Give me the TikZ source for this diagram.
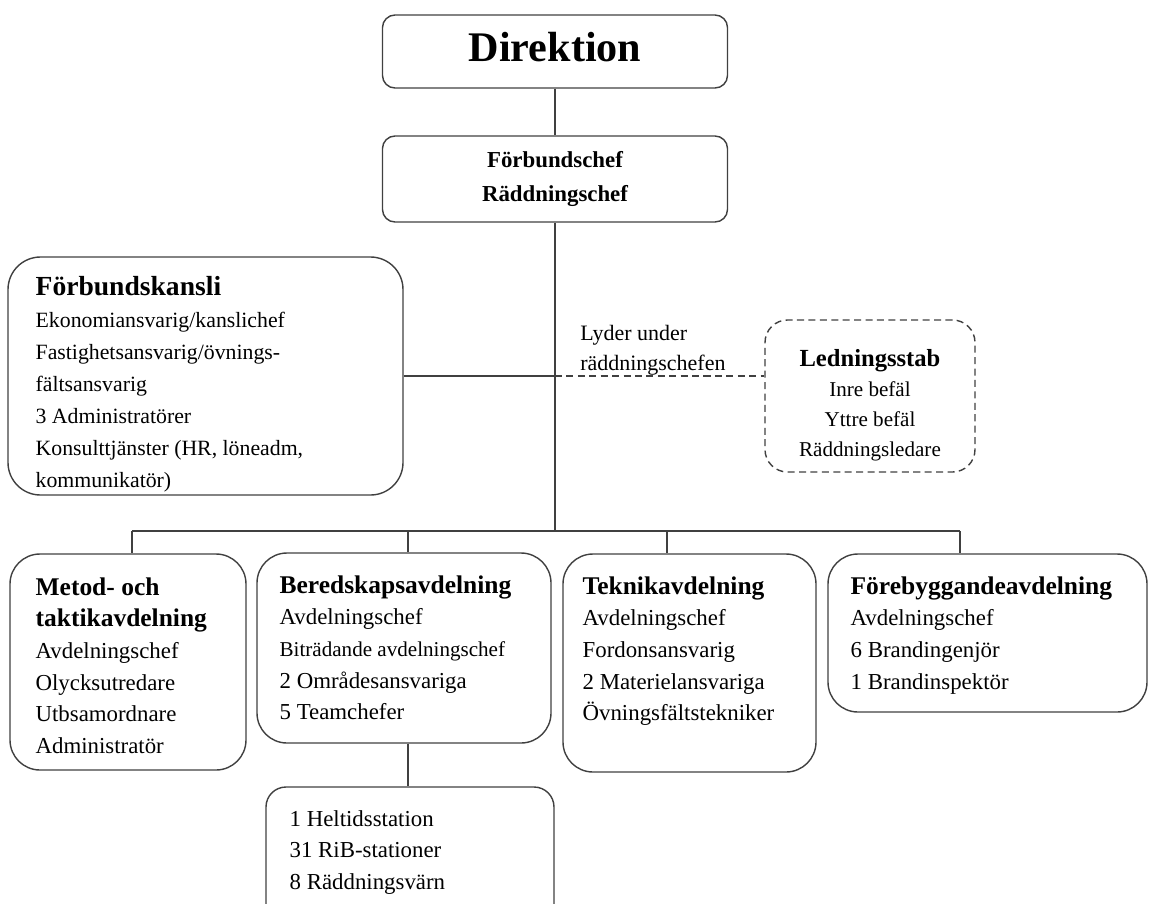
\documentclass[tikz,border=0pt]{standalone}
\usepackage{fontspec}
\setmainfont{Liberation Serif}
\usetikzlibrary{positioning}
\tikzset{every node/.append style={inner sep=0pt}}
\tikzset{
  unit/.style={draw=black!75, line width=0.8pt, rounded corners=0.6cm},
  topbox/.style={unit, rounded corners=0.25cm, align=center},
  txt/.style={align=left, font=\fontsize{13}{18}\selectfont},
  link/.style={draw=black!75, line width=0.8pt},
  dashlink/.style={link, dash pattern=on 4pt off 2.5pt}
}
\newcommand{\hd}[2][14.5]{{\fontsize{#1}{18}\selectfont\bfseries #2}}

\begin{document}
\begin{tikzpicture}
\useasboundingbox (0,0) rectangle (23,-18.06);
\node[topbox, minimum width=6.9cm, minimum height=1.46cm, text depth=0.2cm,
  font=\fontsize{24}{26}\selectfont\bfseries] (direktion) at (11.1,-1.03) {Direktion};
\node[topbox, minimum width=6.9cm, minimum height=1.72cm,
  font=\fontsize{13}{19}\selectfont\bfseries] (chef) at (11.1,-3.58) {Förbundschef\\Räddningschef};

\node[unit, rounded corners=0.65cm, minimum width=7.9cm, minimum height=4.76cm] (kansli) at (4.11,-7.52) {};
\node[txt, font=\fontsize{12.4}{18.2}\selectfont, below right=0.4cm and 0.56cm of kansli.north west] (kanslitext)
  {\hd[15.7]{Förbundskansli}\\Ekonomiansvarig/kanslichef\\Fastighetsansvarig/övnings-\\fältsansvarig\\
   3 Administratörer\\Konsulttjänster (HR, löneadm,\\kommunikatör)};

\node[unit, dash pattern=on 4pt off 2.5pt, rounded corners=0.45cm,
  minimum width=4.2cm, minimum height=3.04cm] (stab) at (17.4,-7.92) {};
\node[txt, align=center, font=\fontsize{12}{17}\selectfont, below=0.6cm of stab.north] (stabtext)
  {{\fontsize{14}{17}\selectfont\bfseries Ledningsstab}\\Inre befäl\\Yttre befäl\\Räddningsledare};
\node[txt, anchor=north west, font=\fontsize{12.5}{17}\selectfont]
  (lyder) at (11.6,-6.5) {Lyder under\\räddningschefen};

\node[unit, minimum width=4.72cm, minimum height=4.32cm] (metod) at (2.56,-13.24) {};
\node[txt, below right=0.48cm and 0.52cm of metod.north west] (metodtext)
  {\hd{Metod- och}\\\hd{taktikavdelning}\\Avdelningschef\\Olycksutredare\\Utbsamordnare\\Administratör};
\node[unit, minimum width=5.88cm, minimum height=3.8cm] (bered) at (8.08,-12.96) {};
\node[txt, below right=0.46cm and 0.46cm of bered.north west] (beredtext)
  {\hd{Beredskapsavdelning}\\Avdelningschef\\{\fontsize{12}{18}\selectfont Biträdande avdelningschef}\\2 Områdesansvariga\\5 Teamchefer};
\node[unit, minimum width=5.06cm, minimum height=4.36cm] (teknik) at (13.79,-13.26) {};
\node[txt, below right=0.46cm and 0.4cm of teknik.north west] (tekniktext)
  {\hd{Teknikavdelning}\\Avdelningschef\\Fordonsansvarig\\2 Materielansvariga\\Övningsfältstekniker};
\node[unit, minimum width=6.38cm, minimum height=3.16cm] (foreb) at (19.75,-12.66) {};
\node[txt, below right=0.46cm and 0.46cm of foreb.north west] (forebtext)
  {\hd{Förebyggandeavdelning}\\Avdelningschef\\6 Brandingenjör\\1 Brandinspektör};

\node[unit, rounded corners=0.4cm, minimum width=5.76cm, minimum height=2.76cm] (station) at (8.2,-17.12) {};
\node[txt, font=\fontsize{13}{17.8}\selectfont, below right=0.48cm and 0.48cm of station.north west] (stationtext)
  {1 Heltidsstation\\31 RiB-stationer\\8 Räddningsvärn};

\coordinate (bus) at (11.08,-10.62);
\coordinate (b1) at (2.64,-10.62);
\coordinate (b2) at (8.16,-10.62);
\coordinate (b3) at (13.34,-10.62);
\coordinate (b4) at (19.2,-10.62);

\draw[link] (direktion) -- (chef);
\draw[link] (chef.south) -- (chef.south |- bus);
\draw[link] (b1) -- (b4);
\foreach \b/\n in {b1/metod, b2/bered, b3/teknik, b4/foreb}
  \draw[link] (\b) -- (\b |- \n.north);
\draw[link] (kansli.east) -- (kansli.east -| chef.south);
\draw[dashlink] (kansli.east -| chef.south) -- (kansli.east -| stab.west);
\draw[link] (b2 |- bered.south) -- (b2 |- station.north);
\end{tikzpicture}
\end{document}
